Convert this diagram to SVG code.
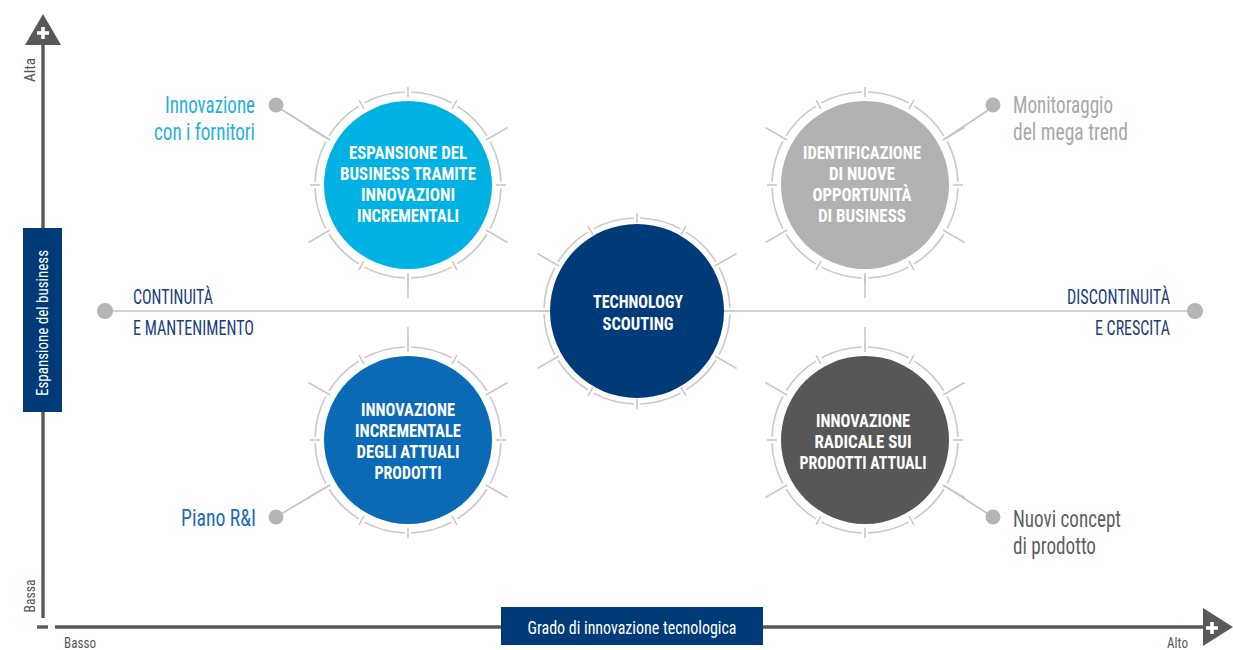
<svg xmlns="http://www.w3.org/2000/svg" xmlns:xlink="http://www.w3.org/1999/xlink" width="1233" height="650" viewBox="0 0 1233 650">
<style>
.t{font-family:"Liberation Sans Narrow","Roboto Condensed","DejaVu Sans Condensed","Liberation Sans",sans-serif;}
.ct{font-size:17.5px;font-weight:bold;fill:#ffffff;text-anchor:middle;}
.side{font-size:21px;fill:#1d3e7b;}
.lbl{font-size:23px;}
.ax{font-size:14px;fill:#555555;}
.ring{fill:none;stroke:#c9c9c9;stroke-width:1.6;}
.tk{stroke:#c9c9c9;stroke-width:1.6;}
.conn{stroke:#c2c2c2;stroke-width:1.6;fill:none;}
.dot{fill:#b5b5b5;}
.axis{stroke:#595959;stroke-width:3.4;fill:none;}
</style>
<defs>
<g id="ring">
<circle class="ring" r="93" pathLength="360" stroke-dasharray="26 4" stroke-dashoffset="28"/>
<g class="tk">
<line x1="88" y1="0" x2="98" y2="0"/>
<line x1="88" y1="0" x2="98" y2="0" transform="rotate(60)"/>
<line x1="88" y1="0" x2="98" y2="0" transform="rotate(90)"/>
<line x1="88" y1="0" x2="98" y2="0" transform="rotate(120)"/>
<line x1="88" y1="0" x2="98" y2="0" transform="rotate(180)"/>
<line x1="88" y1="0" x2="98" y2="0" transform="rotate(240)"/>
<line x1="88" y1="0" x2="98" y2="0" transform="rotate(270)"/>
<line x1="88" y1="0" x2="98" y2="0" transform="rotate(300)"/>
<line x1="90" y1="0" x2="115" y2="0" transform="rotate(30)"/>
<line x1="90" y1="0" x2="115" y2="0" transform="rotate(150)"/>
<line x1="90" y1="0" x2="115" y2="0" transform="rotate(210)"/>
<line x1="90" y1="0" x2="115" y2="0" transform="rotate(330)"/>
</g>
</g>
</defs>
<rect width="1233" height="650" fill="#ffffff"/>

<g id="axes">
<line class="axis" x1="43" y1="44" x2="43" y2="618"/>
<line class="axis" x1="37" y1="627" x2="48" y2="627"/>
<line class="axis" x1="55" y1="627" x2="1205" y2="627"/>
<polygon points="43,14 61,45 25,45" fill="#595959"/>
<path d="M37,33 H49 M43,27 V39" stroke="#ffffff" stroke-width="3.6"/>
<polygon points="1203,608 1233,627 1203,646" fill="#595959"/>
<path d="M1206,628 H1218 M1212,622 V634" stroke="#ffffff" stroke-width="3.6"/>
<text class="t ax" transform="translate(35,70) rotate(-90)" text-anchor="middle" textLength="24" lengthAdjust="spacingAndGlyphs">Alta</text>
<text class="t ax" transform="translate(35,596) rotate(-90)" text-anchor="middle" textLength="33" lengthAdjust="spacingAndGlyphs">Bassa</text>
<text class="t ax" x="64" y="648" textLength="32" lengthAdjust="spacingAndGlyphs">Basso</text>
<text class="t ax" x="1167" y="648" textLength="21" lengthAdjust="spacingAndGlyphs">Alto</text>
</g>

<g id="y-label">
<rect x="23" y="228" width="39" height="184" fill="#003b79"/>
<text class="t" transform="translate(48,323) rotate(-90)" text-anchor="middle" font-size="17" fill="#ffffff" textLength="146" lengthAdjust="spacingAndGlyphs">Espansione del business</text>
</g>

<g id="x-label">
<rect x="501" y="607" width="262" height="38" fill="#003b79"/>
<text class="t" x="632" y="634" text-anchor="middle" font-size="18" fill="#ffffff" textLength="209" lengthAdjust="spacingAndGlyphs">Grado di innovazione tecnologica</text>
</g>

<g id="connectors">
<line class="conn" x1="105" y1="311" x2="1195" y2="311"/>
<line class="conn" x1="276" y1="106" x2="330" y2="140"/>
<line class="conn" x1="993" y1="107" x2="943" y2="140"/>
<line class="conn" x1="276" y1="517" x2="330" y2="485"/>
<line class="conn" x1="993" y1="517" x2="943" y2="485"/>
<line class="tk" x1="408" y1="276" x2="408" y2="298"/>
<line class="tk" x1="865" y1="276" x2="865" y2="298"/>
<line class="tk" x1="408" y1="327" x2="408" y2="349"/>
<line class="tk" x1="865" y1="327" x2="865" y2="349"/>
<circle class="dot" cx="105" cy="311" r="8"/>
<circle class="dot" cx="1195" cy="311" r="8"/>
<circle class="dot" cx="276" cy="105" r="7.5"/>
<circle class="dot" cx="993" cy="105" r="7.5"/>
<circle class="dot" cx="276" cy="517" r="7.5"/>
<circle class="dot" cx="993" cy="517" r="7.5"/>
</g>

<g id="side-labels">
<text class="t side" x="133" y="304" textLength="80" lengthAdjust="spacingAndGlyphs">CONTINUITÀ</text>
<text class="t side" x="133" y="335" textLength="121" lengthAdjust="spacingAndGlyphs">E MANTENIMENTO</text>
<text class="t side" x="1170" y="304" text-anchor="end" textLength="103" lengthAdjust="spacingAndGlyphs">DISCONTINUITÀ</text>
<text class="t side" x="1170" y="335" text-anchor="end" textLength="75" lengthAdjust="spacingAndGlyphs">E CRESCITA</text>
</g>

<g id="label-fornitori">
<text class="t lbl" x="255" y="113" text-anchor="end" fill="#1fb1e0" textLength="90" lengthAdjust="spacingAndGlyphs">Innovazione</text>
<text class="t lbl" x="255" y="140" text-anchor="end" fill="#1fb1e0" textLength="101" lengthAdjust="spacingAndGlyphs">con i fornitori</text>
</g>
<g id="label-megatrend">
<text class="t lbl" x="1013" y="113" fill="#a8a8a8" textLength="100" lengthAdjust="spacingAndGlyphs">Monitoraggio</text>
<text class="t lbl" x="1013" y="140" fill="#a8a8a8" textLength="115" lengthAdjust="spacingAndGlyphs">del mega trend</text>
</g>
<g id="label-piano">
<text class="t lbl" x="256" y="526" text-anchor="end" fill="#1a6db7" textLength="75" lengthAdjust="spacingAndGlyphs">Piano R&amp;I</text>
</g>
<g id="label-concept">
<text class="t lbl" x="1013" y="527" fill="#5f5f5f" textLength="108" lengthAdjust="spacingAndGlyphs">Nuovi concept</text>
<text class="t lbl" x="1013" y="554" fill="#5f5f5f" textLength="83" lengthAdjust="spacingAndGlyphs">di prodotto</text>
</g>

<g id="node-espansione">
<use xlink:href="#ring" href="#ring" transform="translate(408,185)"/>
<circle cx="408" cy="185" r="84" fill="#00b2e3"/>
<text class="t ct" x="408" y="159" textLength="118" lengthAdjust="spacingAndGlyphs">ESPANSIONE DEL</text>
<text class="t ct" x="408" y="180" textLength="136" lengthAdjust="spacingAndGlyphs">BUSINESS TRAMITE</text>
<text class="t ct" x="408" y="201" textLength="94" lengthAdjust="spacingAndGlyphs">INNOVAZIONI</text>
<text class="t ct" x="408" y="222" textLength="102" lengthAdjust="spacingAndGlyphs">INCREMENTALI</text>
</g>

<g id="node-identificazione">
<use xlink:href="#ring" href="#ring" transform="translate(865,185)"/>
<circle cx="865" cy="185" r="84" fill="#b2b2b2"/>
<text class="t ct" x="862" y="159" textLength="118" lengthAdjust="spacingAndGlyphs">IDENTIFICAZIONE</text>
<text class="t ct" x="862" y="180" textLength="66" lengthAdjust="spacingAndGlyphs">DI NUOVE</text>
<text class="t ct" x="862" y="201" textLength="99" lengthAdjust="spacingAndGlyphs">OPPORTUNITÀ</text>
<text class="t ct" x="862" y="222" textLength="88" lengthAdjust="spacingAndGlyphs">DI BUSINESS</text>
</g>

<g id="node-scouting">
<use xlink:href="#ring" href="#ring" transform="translate(637,311)"/>
<circle cx="637" cy="311" r="87" fill="#003b79"/>
<text class="t ct" x="638" y="308" textLength="90" lengthAdjust="spacingAndGlyphs">TECHNOLOGY</text>
<text class="t ct" x="638" y="330" textLength="71" lengthAdjust="spacingAndGlyphs">SCOUTING</text>
</g>

<g id="node-incrementale">
<use xlink:href="#ring" href="#ring" transform="translate(408,440)"/>
<circle cx="408" cy="440" r="84" fill="#0a6ab6"/>
<text class="t ct" x="408" y="416" textLength="94" lengthAdjust="spacingAndGlyphs">INNOVAZIONE</text>
<text class="t ct" x="408" y="437" textLength="106" lengthAdjust="spacingAndGlyphs">INCREMENTALE</text>
<text class="t ct" x="408" y="458" textLength="103" lengthAdjust="spacingAndGlyphs">DEGLI ATTUALI</text>
<text class="t ct" x="408" y="479" textLength="67" lengthAdjust="spacingAndGlyphs">PRODOTTI</text>
</g>

<g id="node-radicale">
<use xlink:href="#ring" href="#ring" transform="translate(865,440)"/>
<circle cx="865" cy="440" r="84" fill="#575757"/>
<text class="t ct" x="863" y="427" textLength="94" lengthAdjust="spacingAndGlyphs">INNOVAZIONE</text>
<text class="t ct" x="863" y="448" textLength="97" lengthAdjust="spacingAndGlyphs">RADICALE SUI</text>
<text class="t ct" x="863" y="469" textLength="127" lengthAdjust="spacingAndGlyphs">PRODOTTI ATTUALI</text>
</g>
</svg>
